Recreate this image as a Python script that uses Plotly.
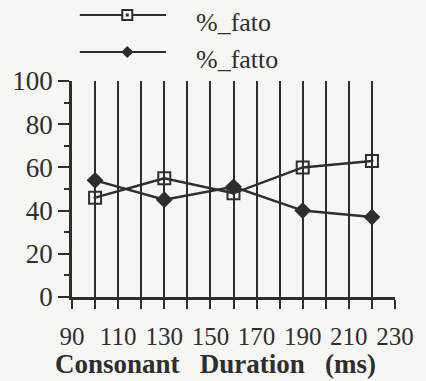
import plotly.graph_objects as go

durations = [100, 130, 160, 190, 220]
pct_fato = [46, 55, 48, 60, 63]
pct_fatto = [54, 45, 51, 40, 37]
x_tick_vals = list(range(90, 231, 10))
x_tick_text = [str(v) if (v - 90) % 20 == 0 else "" for v in x_tick_vals]
y_tick_vals = [0, 20, 40, 60, 80, 100]
series_names = ["%_fato", "%_fatto"]
GAP = "\u00a0" * 3
x_title = "Consonant" + GAP + "Duration" + GAP + "(ms)"

INK = "#2e2e2e"
BG = "#f6f6f3"
FONT = "Liberation Serif"

# plot area in pixels
L, R, T, B = 70, 23, 81, 84
W, H = 426, 381
PW, PH = W - L - R, H - T - B


def px_x(px):
    return (px - L) / PW


def px_y(py):
    return (H - B - py) / PH


fig = go.Figure()
fig.add_trace(go.Scatter(
    x=durations, y=pct_fato, mode="lines+markers", name=series_names[0],
    line=dict(color=INK, width=2.5),
    marker=dict(symbol="square-open-dot", size=12, color=INK, line=dict(width=2, color=INK)),
    cliponaxis=False, showlegend=False))
fig.add_trace(go.Scatter(
    x=durations, y=pct_fatto, mode="lines+markers", name=series_names[1],
    line=dict(color=INK, width=2.5),
    marker=dict(symbol="diamond", size=13, color=INK),
    cliponaxis=False, showlegend=False))

# custom legend (long line samples like the original)
shapes = []
annotations = []
for i, (name, py) in enumerate(zip(series_names, [15, 52])):
    shapes.append(dict(type="line", xref="paper", yref="paper",
                       x0=px_x(78), x1=px_x(167), y0=px_y(py), y1=px_y(py),
                       line=dict(color=INK, width=2.2)))
    if i == 0:
        shapes.append(dict(type="rect", xref="paper", yref="paper",
                           xsizemode="pixel", ysizemode="pixel",
                           xanchor=px_x(127), yanchor=px_y(py),
                           x0=-5, x1=5, y0=-5, y1=5,
                           fillcolor=BG, line=dict(color=INK, width=2)))
        shapes.append(dict(type="rect", xref="paper", yref="paper",
                           xsizemode="pixel", ysizemode="pixel",
                           xanchor=px_x(127), yanchor=px_y(py),
                           x0=-1.5, x1=1.5, y0=-1.5, y1=1.5,
                           fillcolor=INK, line=dict(width=0)))
    else:
        shapes.append(dict(type="path", xref="paper", yref="paper",
                           xsizemode="pixel", ysizemode="pixel",
                           xanchor=px_x(127), yanchor=px_y(py),
                           path="M -6 0 L 0 6 L 6 0 L 0 -6 Z",
                           fillcolor=INK, line=dict(width=0)))
    annotations.append(dict(text=name, xref="paper", yref="paper",
                            x=px_x(196), y=px_y(py + 7), xanchor="left", yanchor="middle",
                            showarrow=False, font=dict(family=FONT, size=26, color=INK)))

annotations.append(dict(text="<b>" + x_title + "</b>", xref="paper", yref="paper",
                        x=px_x(218), y=px_y(364), xanchor="center", yanchor="middle",
                        showarrow=False, font=dict(family=FONT, size=27, color=INK)))

fig.update_layout(
    width=W, height=H,
    margin=dict(l=L, r=R, t=T, b=B),
    paper_bgcolor=BG, plot_bgcolor=BG,
    shapes=shapes, annotations=annotations,
    xaxis=dict(range=[90, 230], tickmode="array", tickvals=x_tick_vals, ticktext=x_tick_text,
               ticks="outside", ticklen=9, tickwidth=2, tickcolor=INK,
               ticklabelstandoff=6,
               showgrid=True, gridcolor=INK, gridwidth=2,
               showline=True, linecolor=INK, linewidth=2.5,
               zeroline=False,
               tickfont=dict(family=FONT, size=25, color=INK)),
    yaxis=dict(range=[0, 100], tickmode="array", tickvals=y_tick_vals,
               ticks="outside", ticklen=11, tickwidth=2, tickcolor=INK,
               minor=dict(dtick=10, tick0=0, ticks="outside", ticklen=5, tickwidth=2, tickcolor=INK),
               showgrid=False, showline=True, linecolor=INK, linewidth=2.5,
               zeroline=False,
               tickfont=dict(family=FONT, size=27, color=INK)),
)

fig.write_html("out.html")
